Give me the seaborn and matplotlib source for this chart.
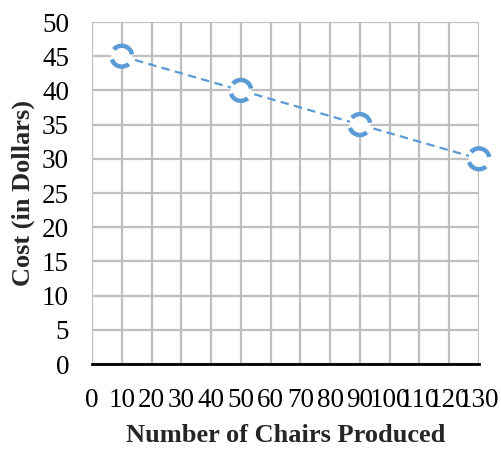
import matplotlib
matplotlib.use("Agg")
import matplotlib.pyplot as plt
import seaborn as sns
import pandas as pd

# Production cost per chair at different volumes
chairs = [10, 50, 90, 130]
cost = [45, 40, 35, 30]

x_ticks = list(range(0, 131, 10))
y_ticks = list(range(0, 51, 5))

df = pd.DataFrame({"chairs": chairs, "cost": cost})

sns.set_theme(style="white")
plt.rcParams["font.family"] = ["Liberation Serif", "DejaVu Serif"]

blue = "#5B9BD5"
grid_grey = "#BFBFBF"

fig = plt.figure(figsize=(5.01, 4.49), dpi=100)
ax = fig.add_axes([0.1836, 0.1893, 0.956 - 0.1836, 0.951 - 0.1893])

sns.lineplot(data=df, x="chairs", y="cost", ax=ax, color=blue,
             linewidth=1.6, dashes=False, zorder=3)
ax.lines[0].set_dashes((3.8, 2.4))

sns.scatterplot(data=df, x="chairs", y="cost", ax=ax, s=225,
                facecolor="white", edgecolor=blue, linewidth=3.2,
                linestyle=(3.6, (5.3, 2.4)), zorder=4, clip_on=False)

ax.set_xlim(0, 130)
ax.set_ylim(0, 50)
ax.set_xticks(x_ticks)
ax.set_yticks(y_ticks)
ax.set_xticklabels([str(v) for v in x_ticks])
ax.set_yticklabels([str(v) for v in y_ticks])

ax.grid(True, color=grid_grey, linewidth=1.6)
ax.set_axisbelow(True)
for side in ("left", "right", "top"):
    ax.spines[side].set_visible(False)
ax.spines["bottom"].set_color("black")
ax.spines["bottom"].set_linewidth(2)
ax.spines["bottom"].set_zorder(2.5)

ax.tick_params(axis="both", length=0, labelsize=19.5, colors="black")
ax.tick_params(axis="x", pad=17)
ax.tick_params(axis="y", pad=16.5)

ax.set_xlabel("Number of Chairs Produced", fontsize=19, fontweight="bold",
              labelpad=8)
ax.set_ylabel("Cost (in Dollars)", fontsize=19, fontweight="bold",
              labelpad=5)

fig.savefig("out.png", dpi=100)
